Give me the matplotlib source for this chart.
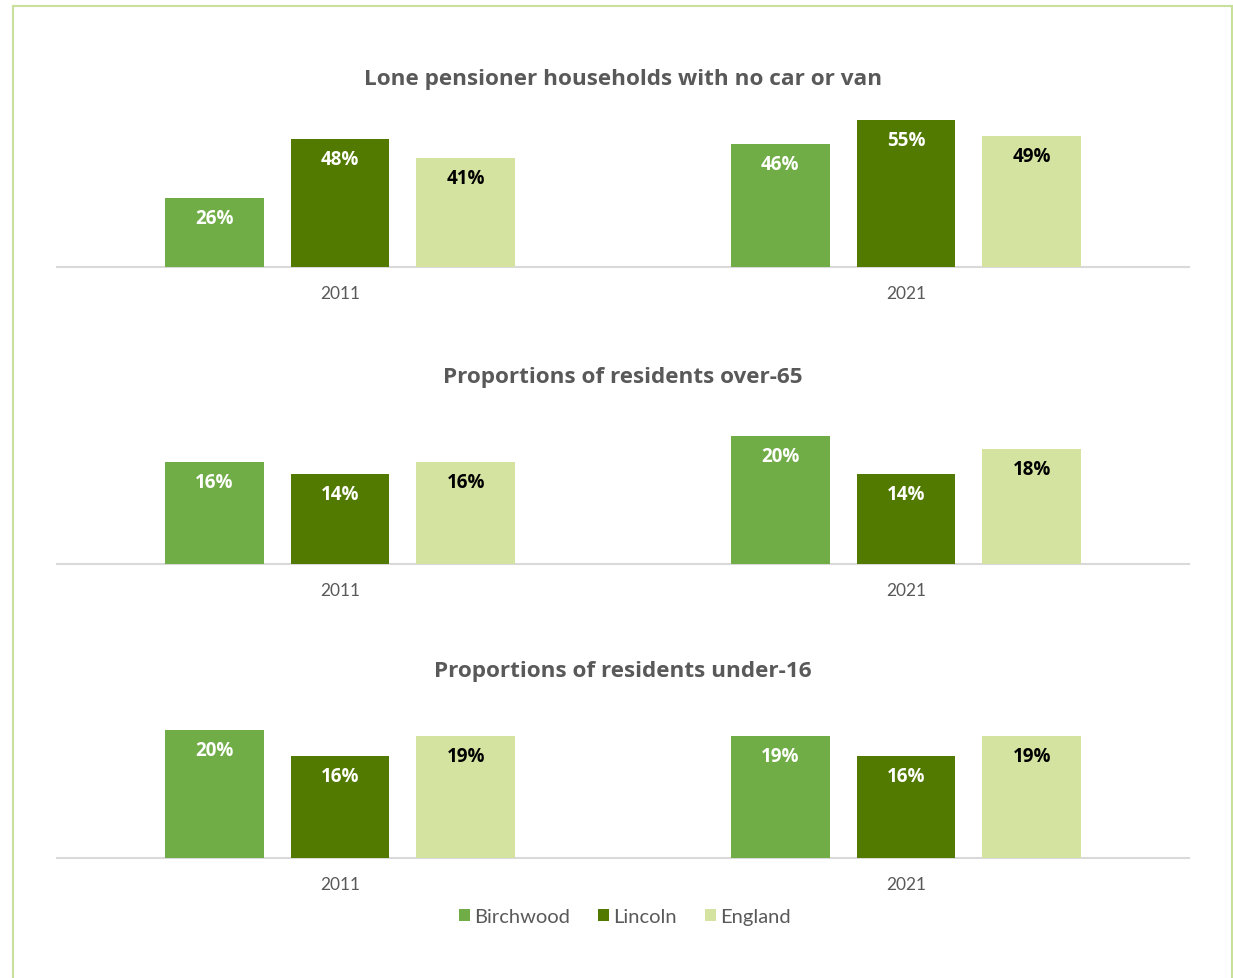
import numpy as np
import matplotlib.pyplot as plt
from matplotlib.lines import Line2D
from matplotlib.patches import Patch

years = ['2011', '2021']
areas = ['Birchwood', 'Lincoln', 'England']

titles = [
    'Lone pensioner households with no car or van',
    'Proportions of residents over-65',
    'Proportions of residents under-16',
]

# percentage values, one list per area: [2011, 2021]
no_car_birchwood = [26, 46]
no_car_lincoln = [48, 55]
no_car_england = [41, 49]

over65_birchwood = [16, 20]
over65_lincoln = [14, 14]
over65_england = [16, 18]

under16_birchwood = [20, 19]
under16_lincoln = [16, 16]
under16_england = [19, 19]

panels = [
    (no_car_birchwood, no_car_lincoln, no_car_england),
    (over65_birchwood, over65_lincoln, over65_england),
    (under16_birchwood, under16_lincoln, under16_england),
]
y_max = [60, 25, 25]

COLORS = ['#70AD47', '#527A00', '#D4E3A0']
LABEL_COLORS = ['white', 'white', 'black']
GREY = '#595959'
W, H = 1233, 979

fig = plt.figure(figsize=(W / 100, H / 100), dpi=100)
fig.patch.set_facecolor('white')

# thin green frame around the whole graphic
border = '#C8E09C'
fig.add_artist(Line2D([13 / W, 13 / W], [0, 1 - 7 / H], color=border, lw=1.5))
fig.add_artist(Line2D([13 / W, 1232 / W], [1 - 7 / H, 1 - 7 / H], color=border, lw=1.5))
fig.add_artist(Line2D([1232 / W, 1232 / W], [0, 1 - 7 / H], color=border, lw=1.5))

baselines = [268, 565, 859]
title_y = [80, 377, 671]
ax_h = 160
x = np.arange(len(years))
width = 0.174
step = 0.222

for i, (series, base, ty) in enumerate(zip(panels, baselines, title_y)):
    ax = fig.add_axes([57 / W, 1 - base / H, 1132 / W, ax_h / H])
    for j, vals in enumerate(series):
        pos = x + (j - 1) * step
        bars = ax.bar(pos, vals, width, color=COLORS[j], label=areas[j], zorder=2)
        for b, v in zip(bars, vals):
            ax.annotate(f'{v}%', (b.get_x() + b.get_width() / 2, v),
                        xytext=(0, -20), textcoords='offset pixels',
                        ha='center', va='center', fontsize=13.5, fontweight='bold',
                        color=LABEL_COLORS[j], family='Open Sans')
    ax.set_xlim(-0.5, 1.5)
    ax.set_ylim(0, y_max[i])
    ax.set_xticks(x)
    ax.set_xticklabels(years, fontsize=12.5, color=GREY, family='Lato')
    ax.tick_params(axis='x', length=0, pad=13)
    ax.set_yticks([])
    for s in ['top', 'left', 'right']:
        ax.spines[s].set_visible(False)
    ax.spines['bottom'].set_color('#D9D9D9')
    ax.spines['bottom'].set_linewidth(1.5)
    ax.spines['bottom'].set_zorder(1)
    fig.text(623 / W, 1 - ty / H, titles[i], ha='center', va='center',
             fontsize=16.2, fontweight='bold', color=GREY, family='Open Sans')

handles = [Patch(facecolor=c, label=a) for c, a in zip(COLORS, areas)]
fig.legend(handles=handles, loc='center', bbox_to_anchor=(625 / W, 1 - 918 / H),
           ncol=3, frameon=False, handlelength=0.55, handleheight=0.55,
           handletextpad=0.2, columnspacing=1.4,
           prop={'family': 'Lato', 'size': 14.5}, labelcolor=GREY)

fig.savefig('out.png', dpi=100, facecolor='white')
